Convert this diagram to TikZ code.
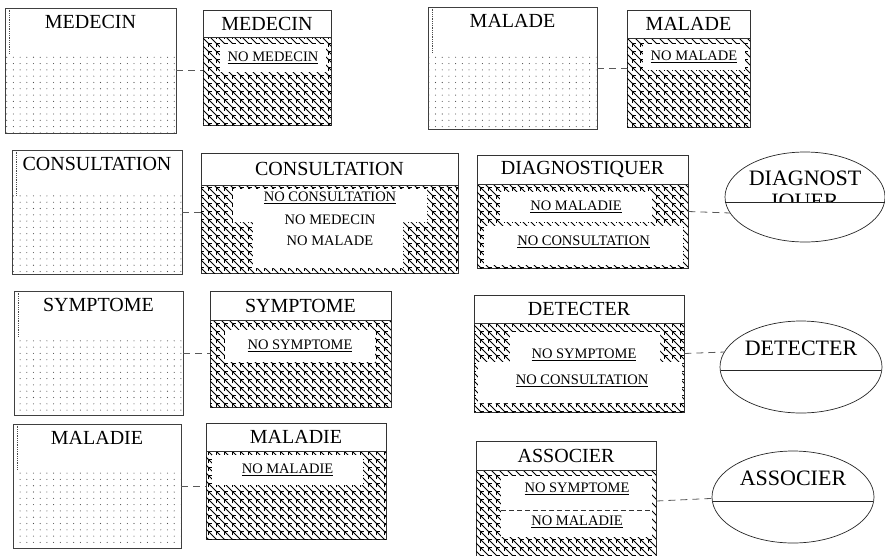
\documentclass[tikz,border=0pt]{standalone}
\usepackage{fontspec}
\setmainfont{Liberation Serif}
\usetikzlibrary{patterns.meta,shapes.geometric}

% motifs de remplissage
\tikzdeclarepattern{
  name=hachure, type=uncolored,
  bounding box={(-0.5pt,-0.5pt) and (8.5pt,8.5pt)},
  tile size={(8pt,8pt)},
  code={
    \draw[line width=0.6pt] (0pt,4pt) -- (0pt,8pt) -- (4pt,8pt);
    \draw[line width=0.9pt] (0pt,8pt) -- (8pt,0pt);
  }
}
\tikzdeclarepattern{
  name=pointille, type=uncolored,
  bounding box={(-0.7pt,-0.7pt) and (0.7pt,0.7pt)},
  tile size={(6.7pt,6.3pt)},
  code={\fill (0pt,0pt) circle (0.55pt);}
}

\tikzset{
  entite/.style={draw=black!75, line width=0.7pt, fill=white, inner sep=0pt},
  table/.style={draw=black!80, line width=0.7pt, fill=white,
                postaction={pattern=hachure, pattern color=black}, inner sep=0pt},
  entete/.style={draw=black!80, line width=0.7pt, fill=white, anchor=north,
                 font=\fontsize{20}{22}\selectfont, inner sep=0pt},
  titre/.style={font=\fontsize{20}{22}\selectfont, inner sep=0pt},
  cle/.style={fill=white, font=\fontsize{14.5}{16}\selectfont, inner sep=0pt},
  champ/.style={font=\fontsize{14.5}{16}\selectfont, inner sep=0pt},
  assoc/.style={draw=black!85, line width=0.7pt, ellipse, fill=white, inner sep=0pt},
  lien/.style={draw=black!65, line width=0.8pt, dash pattern=on 7pt off 5pt}
}

\begin{document}
\begin{tikzpicture}[x=1pt,y=-1pt]
  \clip (0,0) rectangle (885,555);
  \useasboundingbox (0,0) rectangle (885,555);

  % ---- vues externes (pointillees)
  \node[entite, minimum width=171pt, minimum height=125pt] (med) at (90.5,70.5) {};
  \node[entite, minimum width=169pt, minimum height=122pt] (mal) at (512.5,68) {};
  \node[entite, minimum width=170pt, minimum height=124pt] (cons) at (97,212) {};
  \node[entite, minimum width=169pt, minimum height=124pt] (sym) at (98.5,353) {};
  \node[entite, minimum width=168pt, minimum height=124pt] (mdie) at (97,486) {};
  \foreach \n/\t in {med/MEDECIN, mal/MALADE, cons/CONSULTATION, sym/SYMPTOME, mdie/MALADIE}{
    \fill[pattern=pointille, pattern color=black!70]
      ([yshift=-46pt,xshift=1pt]\n.north west) rectangle ([xshift=-1pt,yshift=1pt]\n.south east);
    \draw[black!70, densely dotted, line width=0.8pt]
      ([xshift=5pt,yshift=-2pt]\n.north west) -- ([xshift=5pt,yshift=-46pt]\n.north west);
    \node[titre, anchor=north] at ([yshift=-7pt]\n.north) {\t};
  }

  % ---- tables
  \node[table, minimum width=128pt, minimum height=115pt] (tmed) at (267,67.5) {};
  \node[entete, minimum width=128pt, minimum height=27pt] (hmed) at (tmed.north) {MEDECIN};
  \node[cle, minimum width=106pt, minimum height=28pt] (kmed) at (273,58) {\underline{NO MEDECIN}};

  \node[table, minimum width=123pt, minimum height=117pt] (tmal) at (688.5,68.5) {};
  \node[entete, minimum width=123pt, minimum height=28pt] (hmal) at (tmal.north) {MALADE};
  \node[cle, minimum width=102pt, minimum height=26pt] (kmal) at (694,57) {\underline{NO MALADE}};

  \node[table, minimum width=257pt, minimum height=120pt] (tcons) at (329.5,213) {};
  \node[entete, minimum width=257pt, minimum height=32pt] (hcons) at (tcons.north) {CONSULTATION};
  \fill[white] (233,189) -- (427,189) -- (427,222) -- (403,222) -- (403,268)
    -- (253,268) -- (253,222) -- (233,222) -- cycle;
  \node[champ] (kcons) at (330,198) {\underline{NO CONSULTATION}};
  \node[champ] (fmed) at (330,220) {NO MEDECIN};
  \node[champ] (fmal) at (330,241) {NO MALADE};

  \node[table, minimum width=211pt, minimum height=113pt] (tdiag) at (582.5,211.5) {};
  \node[entete, minimum width=211pt, minimum height=29pt] (hdiag) at (tdiag.north) {DIAGNOSTIQUER};
  \node[cle, minimum width=152pt, minimum height=30pt] (kdiag1) at (576,207) {\underline{NO MALADIE}};
  \node[cle, minimum width=199pt, minimum height=39pt, text depth=10pt] (kdiag2) at (583.5,245.5) {\underline{NO CONSULTATION}};

  \node[table, minimum width=181pt, minimum height=116pt] (tsym) at (300.5,349) {};
  \node[entete, minimum width=181pt, minimum height=29pt] (hsym) at (tsym.north) {SYMPTOME};
  \node[cle, minimum width=150pt, minimum height=32pt] (ksym) at (300,346) {\underline{NO SYMPTOME}};

  \node[table, minimum width=210pt, minimum height=117pt] (tdet) at (579,353.5) {};
  \node[entete, minimum width=210pt, minimum height=28pt] (hdet) at (tdet.north) {DETECTER};
  \fill[white] (510,332) -- (660,332) -- (660,362) -- (682,362) -- (682,403)
    -- (478,403) -- (478,362) -- (510,362) -- cycle;
  \node[champ] (kdet1) at (584,355) {\underline{NO SYMPTOME}};
  \node[champ] (kdet2) at (582,381) {\underline{NO CONSULTATION}};

  \node[table, minimum width=180pt, minimum height=116pt] (tmdie) at (296,481) {};
  \node[entete, minimum width=180pt, minimum height=28pt] (hmdie) at (tmdie.north) {MALADIE};
  \node[cle, minimum width=151pt, minimum height=30pt] (kmdie) at (287.5,470) {\underline{NO MALADIE}};

  \node[table, minimum width=180pt, minimum height=120pt] (tass) at (566,501) {};
  \node[entete, minimum width=180pt, minimum height=29pt] (hass) at (tass.north) {ASSOCIER};
  \fill[white] (501,476) rectangle (652,537);
  \draw[black!80, line width=0.7pt, dash pattern=on 5pt off 3pt] (501,510) -- (652,510);
  \node[champ] (kass1) at (577,489) {\underline{NO SYMPTOME}};
  \node[champ] (kass2) at (577,522) {\underline{NO MALADIE}};

  % ---- associations
  \node[assoc, minimum width=160pt, minimum height=90pt] (adiag) at (805,197) {};
  \node[assoc, minimum width=162pt, minimum height=92pt] (adet) at (801,367) {};
  \node[assoc, minimum width=162pt, minimum height=92pt] (aass) at (793,497) {};
  \begin{scope}
    \clip (725,150) rectangle (885,202);
    \node[titre, align=center, font=\fontsize{22}{23}\selectfont] (tdg) at (805,191) {DIAGNOST\\IQUER};
  \end{scope}
  \node[titre, font=\fontsize{22}{24}\selectfont] (tdt) at (801,348) {DETECTER};
  \node[titre, font=\fontsize{22}{24}\selectfont] (tas) at (793,478) {ASSOCIER};
  \foreach \a/\y in {adiag/202, adet/370, aass/501}{
    \begin{scope}
      \clip (\a.center) ellipse [x radius=80.6pt, y radius=45.6pt];
      \draw[black!85, line width=0.8pt] ([xshift=-90pt]\a.center |- 0,\y) -- ([xshift=90pt]\a.center |- 0,\y);
    \end{scope}
  }

  % ---- liens
  \draw[lien] (med.east) -- (med.east -| tmed.west);
  \draw[lien] (mal.east) -- (mal.east -| tmal.west);
  \draw[lien] (cons.east) -- (cons.east -| tcons.west);
  \draw[lien] (sym.east) -- (sym.east -| tsym.west);
  \draw[lien] (mdie.east) -- (mdie.east -| tmdie.west);
  \draw[lien] (tdiag.east) -- (adiag.192);
  \draw[lien] (tdet.east) -- (adet.169);
  \draw[lien] (tass.east) -- (aass.181);
\end{tikzpicture}
\end{document}
